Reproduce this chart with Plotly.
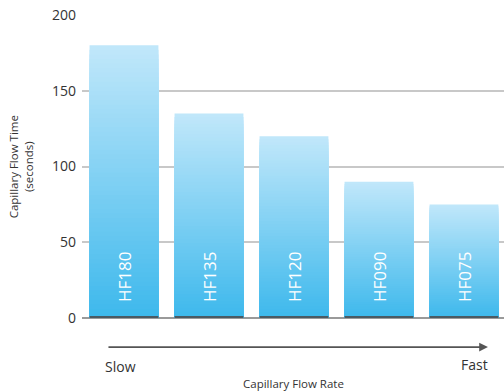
import plotly.graph_objects as go

# Capillary flow time per product grade
grades = ["HF180", "HF135", "HF120", "HF090", "HF075"]
flow_time = [180, 135, 120, 90, 75]
y_ticks = [0, 50, 100, 150, 200]

TOP_RGB = (192, 231, 250)
BOTTOM_RGB = (60, 184, 236)
STEPS = 60

FONT = "Open Sans"

fig = go.Figure()

# Vertical gradient per bar: overlay progressively shorter, darker bars
for k in range(STEPS):
    frac = (STEPS - k) / STEPS          # relative height of this layer
    rgb = tuple(round(BOTTOM_RGB[i] + (TOP_RGB[i] - BOTTOM_RGB[i]) * frac) for i in range(3))
    fig.add_trace(go.Bar(
        x=grades,
        y=[v * frac for v in flow_time],
        width=0.81,
        marker=dict(color="rgb(%d,%d,%d)" % rgb, line=dict(width=0)),
        hoverinfo="skip",
        showlegend=False,
    ))

# Dark base strip along the bottom of each bar
fig.add_trace(go.Bar(
    x=grades,
    y=[1.3] * len(grades),
    width=0.81,
    marker=dict(color="#4a5a63", line=dict(width=0)),
    hoverinfo="skip",
    showlegend=False,
))

# Vertical grade labels inside the bars
for g in grades:
    fig.add_annotation(
        x=g, y=0, xref="x", yref="y",
        text=g, textangle=-90,
        showarrow=False,
        xanchor="center", yanchor="bottom", yshift=14,
        font=dict(family=FONT, size=17, color="white"),
    )

# Flow-rate arrow below the axis
fig.add_annotation(
    x=0.962, y=-0.096, xref="paper", yref="paper",
    ax=-381, ay=0, axref="pixel", ayref="pixel",
    text="", showarrow=True,
    arrowhead=2, arrowsize=1.1, arrowwidth=1.6, arrowcolor="#555555",
)
fig.add_annotation(
    x=0.091, y=-0.16, xref="paper", yref="paper",
    text="Slow", showarrow=False, xanchor="center", yanchor="middle",
    font=dict(family=FONT, size=14, color="#333333"),
)
fig.add_annotation(
    x=0.929, y=-0.153, xref="paper", yref="paper",
    text="Fast", showarrow=False, xanchor="center", yanchor="middle",
    font=dict(family=FONT, size=14, color="#333333"),
)
fig.add_annotation(
    x=0.5, y=-0.215, xref="paper", yref="paper",
    text="Capillary Flow Rate", showarrow=False, xanchor="center", yanchor="middle",
    font=dict(family=FONT, size=11.5, color="#333333"),
)
fig.add_annotation(
    x=-0.145, y=0.5, xref="paper", yref="paper",
    text="Capillary Flow Time<br>(seconds)", textangle=-90,
    showarrow=False, xanchor="center", yanchor="middle",
    font=dict(family=FONT, size=11.5, color="#333333"),
)

fig.update_layout(
    width=504, height=391,
    margin=dict(l=82, r=0, t=15, b=73),
    barmode="overlay",
    plot_bgcolor="white", paper_bgcolor="white",
    showlegend=False,
    xaxis=dict(
        range=[-0.494, 4.471],
        showticklabels=False, showgrid=False, zeroline=False, showline=False,
        fixedrange=True,
    ),
    yaxis=dict(
        range=[0, 200],
        tickvals=y_ticks,
        tickfont=dict(family=FONT, size=14, color="#333333"),
        showgrid=True, gridcolor="#c8c8c8", gridwidth=1.5,
        zeroline=True, zerolinecolor="#9a9a9a", zerolinewidth=1.5,
        showline=False, ticks="", ticklabelstandoff=5,
        fixedrange=True,
    ),
)

fig.write_html("out.html")
